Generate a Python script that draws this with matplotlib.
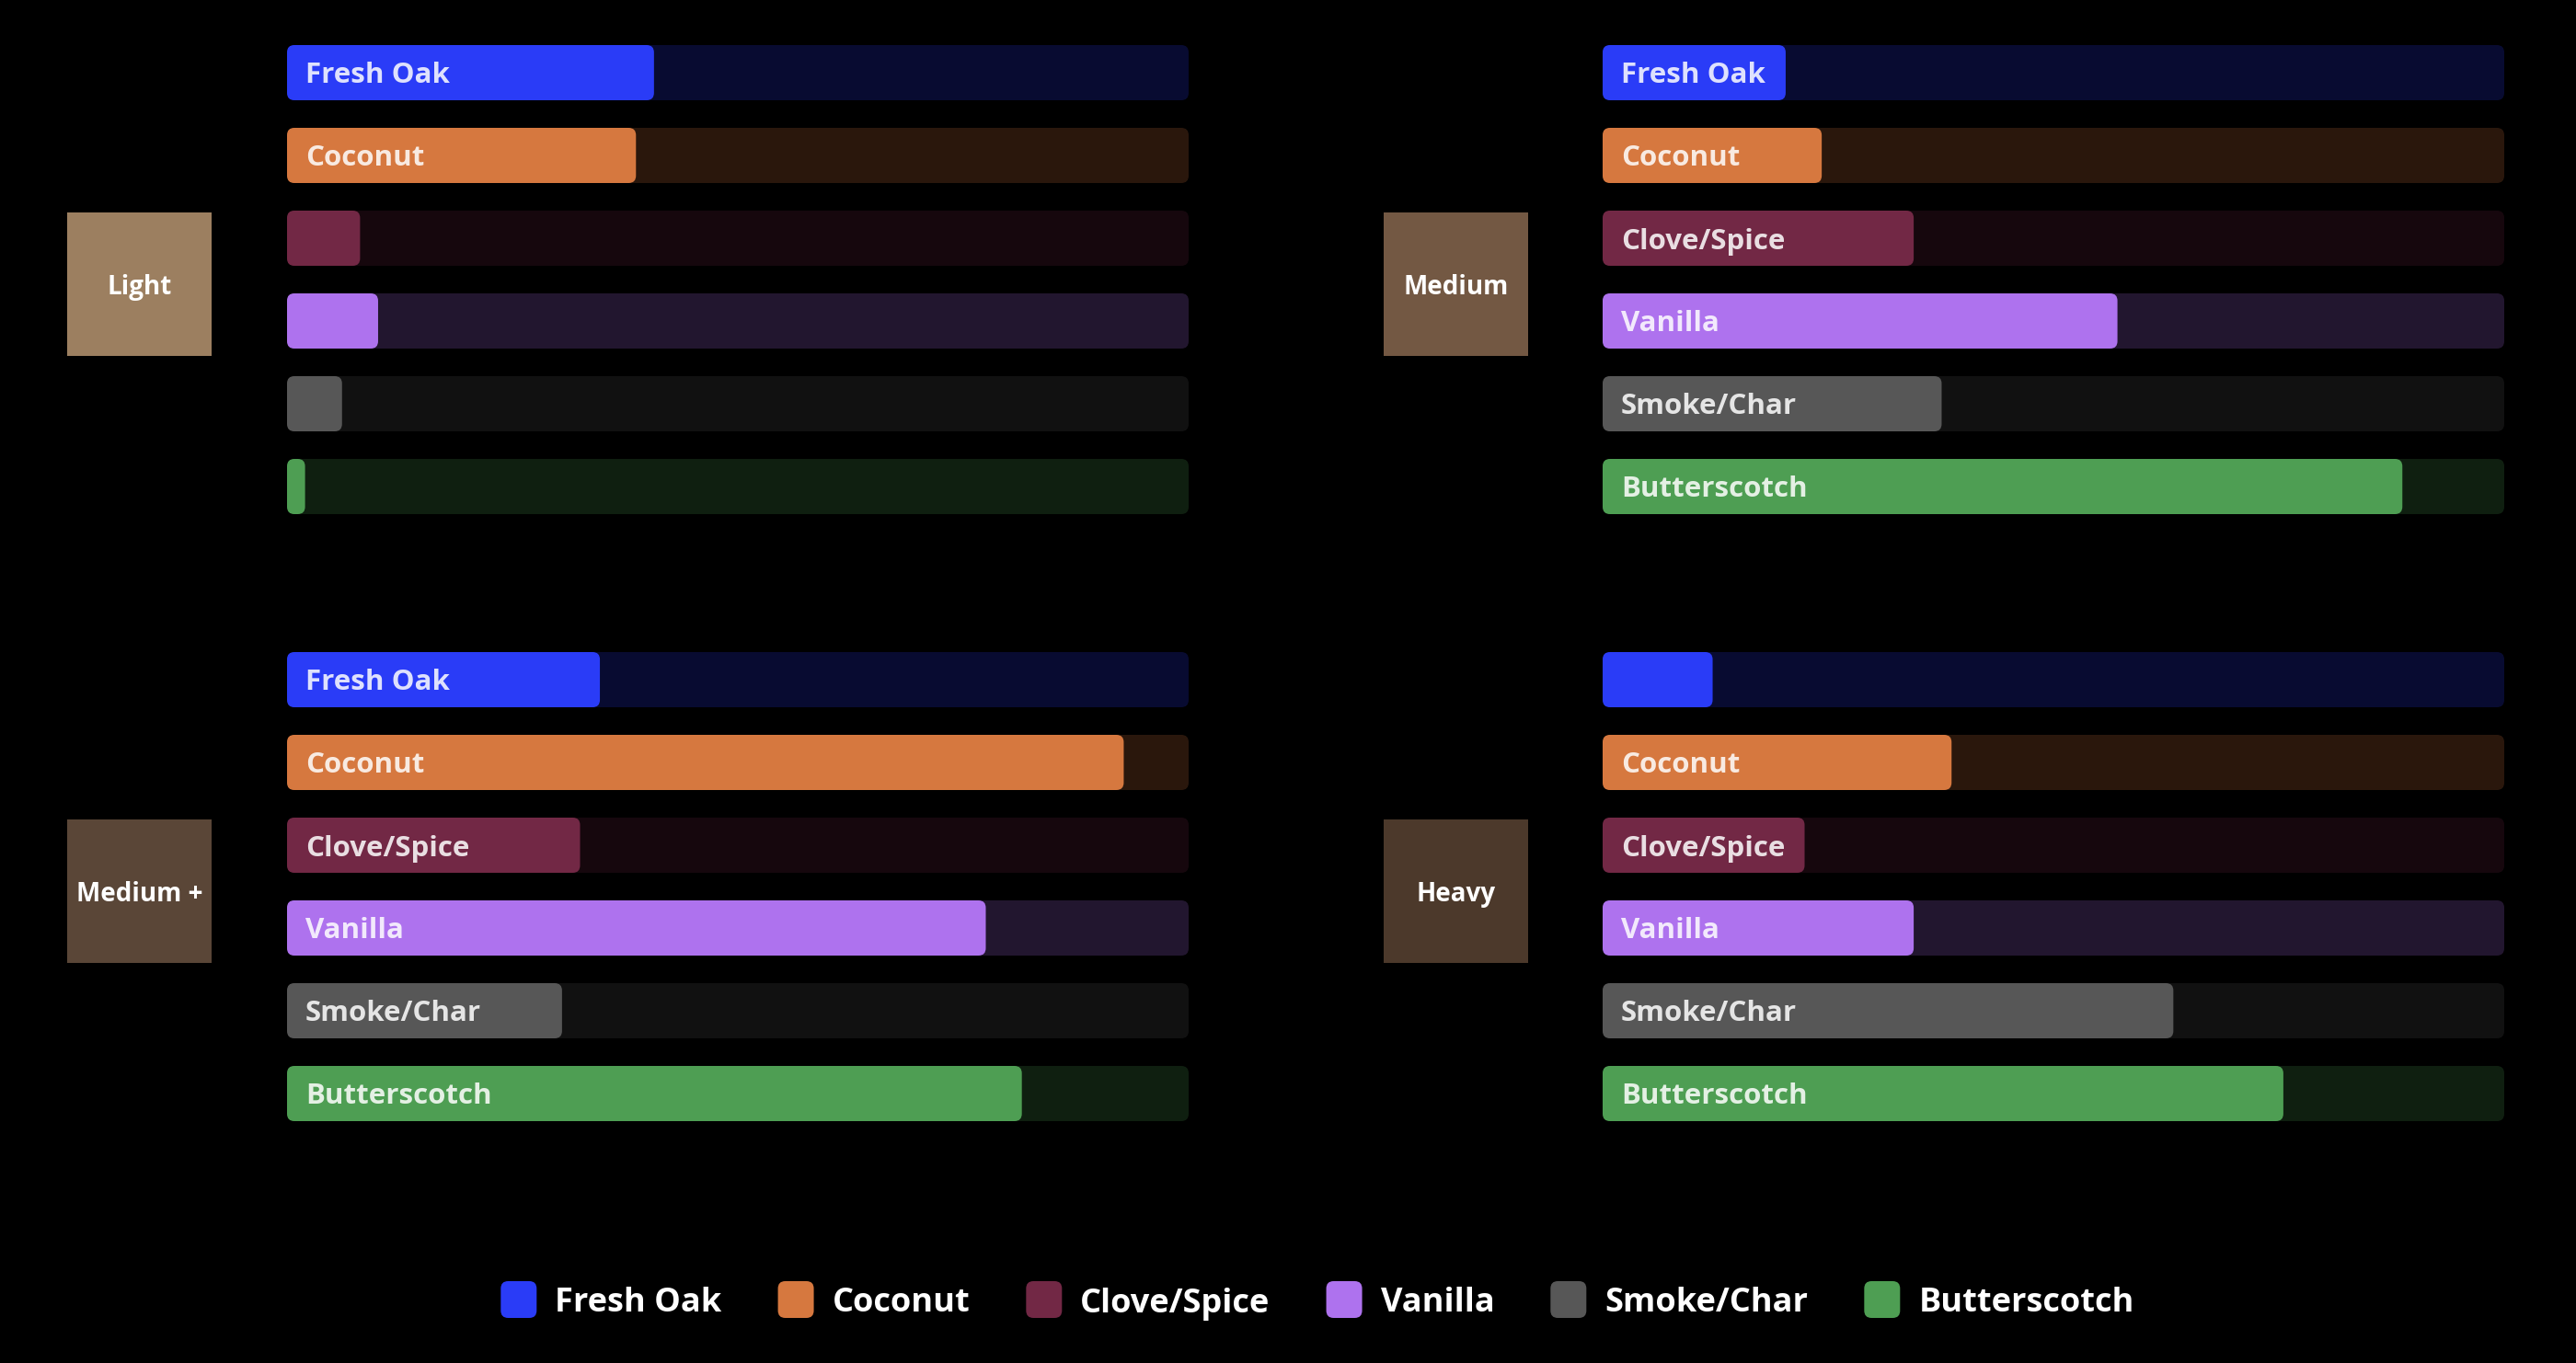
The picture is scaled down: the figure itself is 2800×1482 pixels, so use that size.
import matplotlib
matplotlib.use('Agg')
import matplotlib.pyplot as plt
from matplotlib.patches import FancyBboxPatch

# flavour notes (rows) and their colours
notes = ['Fresh Oak', 'Coconut', 'Clove/Spice', 'Vanilla', 'Smoke/Char', 'Butterscotch']
note_colors = ['#2a3cf7', '#d6783f', '#722845', '#ae72ee', '#575757', '#4e9e53']

# toast levels (panels)
toasts = ['Light', 'Medium', 'Medium +', 'Heavy']
toast_colors = ['#9c7f60', '#735843', '#5a4637', '#4c392b']

# intensity per note, as a share of the full track
light = [0.407, 0.387, 0.081, 0.101, 0.061, 0.020]
medium = [0.203, 0.243, 0.345, 0.571, 0.376, 0.887]
medium_plus = [0.347, 0.928, 0.325, 0.775, 0.305, 0.815]
heavy = [0.122, 0.387, 0.224, 0.345, 0.633, 0.755]

W, H = 2800, 1482
FONT = ['Open Sans', 'DejaVu Sans']
BG = '#000000'

PANEL_W, PANEL_H = 980, 540
ROW_PX = PANEL_H / len(notes)
BAR_H = 60 / ROW_PX
RADIUS_PX = 8


def px_axes(fig, x0, y0, w, h):
    """Axes placed in pixel coords (origin top-left)."""
    return fig.add_axes([x0 / W, 1 - (y0 + h) / H, w / W, h / H])


def round_bars(ax, container, aspect, radius):
    for bar in container:
        x, y = bar.get_x(), bar.get_y()
        w, h = bar.get_width(), bar.get_height()
        r = min(radius, w / 2)
        patch = FancyBboxPatch((x, y), w, h,
                               boxstyle=f'round,pad=0,rounding_size={r}',
                               mutation_aspect=aspect,
                               facecolor=bar.get_facecolor(), edgecolor='none')
        bar.set_visible(False)
        ax.add_patch(patch)


def draw_panel(fig, ax, values):
    rows = list(range(len(notes)))
    ax.set_xlim(0, 1)
    ax.set_ylim(len(notes) - 0.5, -0.5)
    ax.axis('off')
    aspect = PANEL_W / ROW_PX
    radius = RADIUS_PX / PANEL_W
    tracks = ax.barh(rows, [1] * len(notes), height=BAR_H, color=note_colors, alpha=0.2)
    fills = ax.barh(rows, values, height=BAR_H, color=note_colors)
    round_bars(ax, tracks, aspect, radius)
    round_bars(ax, fills, aspect, radius)
    renderer = fig.canvas.get_renderer()
    for i, (note, val) in enumerate(zip(notes, values)):
        t = ax.text(20 / PANEL_W, i, note, ha='left', va='center_baseline',
                    color='white', alpha=0.85, fontsize=22.5,
                    fontweight='bold', family=FONT)
        bb = t.get_window_extent(renderer)
        end_px = ax.transData.transform((val, i))[0]
        if bb.x1 > end_px - 4:
            t.remove()


def draw_toast_box(ax, label, color):
    ax.set_facecolor(color)
    ax.set_xticks([])
    ax.set_yticks([])
    for s in ax.spines.values():
        s.set_visible(False)
    ax.text(0.5, 0.5, label, transform=ax.transAxes, ha='center',
            va='center_baseline', color='white', fontsize=20,
            fontweight='bold', family=FONT)


fig = plt.figure(figsize=(W / 100, H / 100), dpi=100, facecolor=BG)

panel_data = [light, medium, medium_plus, heavy]
panel_pos = [(312, 34), (1742, 34), (312, 694), (1742, 694)]
box_pos = [(73, 231), (1504, 231), (73, 891), (1504, 891)]

for label, color, values, (px, py), (bx, by) in zip(toasts, toast_colors, panel_data,
                                                    panel_pos, box_pos):
    ax = px_axes(fig, px, py, PANEL_W, PANEL_H)
    draw_panel(fig, ax, values)
    box = px_axes(fig, bx, by, 157, 156)
    draw_toast_box(box, label, color)

# legend row, laid out by hand so the swatches can be rounded
lax = px_axes(fig, 0, 1393, W, 40)
lax.set_xlim(0, W)
lax.set_ylim(0, 1)
lax.axis('off')
renderer = fig.canvas.get_renderer()
sw, gap_txt, gap_item = 39, 20, 61
texts, widths = [], []
for note in notes:
    t = lax.text(0, 0.5, note, ha='left', va='center_baseline', color='white',
                 fontsize=26, fontweight='bold', family=FONT)
    texts.append(t)
    widths.append(t.get_window_extent(renderer).width)
total = sum(sw + gap_txt + w for w in widths) + gap_item * (len(notes) - 1)
x = 1432 - total / 2
for note, color, t, w in zip(notes, note_colors, texts, widths):
    lax.add_patch(FancyBboxPatch((x, 0), sw, 1,
                                 boxstyle=f'round,pad=0,rounding_size={RADIUS_PX}',
                                 mutation_aspect=1 / 40,
                                 facecolor=color, edgecolor='none'))
    t.set_x(x + sw + gap_txt)
    x += sw + gap_txt + w + gap_item

fig.savefig('out.png', dpi=100, facecolor=BG)
